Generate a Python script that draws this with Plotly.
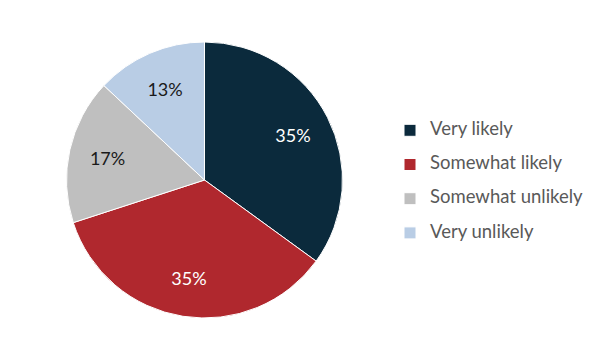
import plotly.graph_objects as go

labels = ["Very likely", "Somewhat likely", "Somewhat unlikely", "Very unlikely"]
values = [35, 35, 17, 13]
colors = ["#0B2A3C", "#B0282E", "#BFBFBF", "#B9CDE5"]
text_colors = ["#FFFFFF", "#FFFFFF", "#1A1A1A", "#1A1A1A"]

FONT = "Lato"
legend_labels = ["<span style='font-size:18.5px'>%s</span><br> " % l for l in labels]

# page body has an 8px margin; compensate
OFF = 8
cx, cy, R = 204.5 - OFF, 180 - OFF, 138
dom = dict(x=[(cx - R) / 600, (cx + R) / 600],
           y=[1 - (cy + R) / 360, 1 - (cy - R) / 360])

# base pie (slices + legend)
fig = go.Figure(go.Pie(
    labels=legend_labels,
    values=values,
    sort=False,
    direction="clockwise",
    rotation=0,
    marker=dict(colors=colors, line=dict(color="white", width=1)),
    textinfo="none",
    hoverinfo="none",
    domain=dom,
))

# transparent ring on top, used only to place the percentage labels further out
fig.add_trace(go.Pie(
    labels=legend_labels,
    values=values,
    sort=False,
    direction="clockwise",
    rotation=0,
    hole=0.44,
    marker=dict(colors=["rgba(0,0,0,0)"] * len(values), line=dict(width=0)),
    texttemplate="%{value}%",
    textposition="inside",
    insidetextorientation="horizontal",
    insidetextfont=dict(color=text_colors, size=18, family=FONT),
    hoverinfo="none",
    showlegend=False,
    domain=dom,
))

fig.update_layout(
    width=600, height=360,
    margin=dict(l=0, r=0, t=0, b=0),
    paper_bgcolor="white",
    font=dict(family=FONT, color="#595959"),
    legend=dict(
        x=(430 - 40 - OFF) / 600, xanchor="left",
        y=1 - 108 / 360, yanchor="top",
        valign="top",
        font=dict(size=12, color="#595959", family=FONT),
        bgcolor="rgba(0,0,0,0)",
    ),
    showlegend=True,
)

fig.write_html("out.html")
